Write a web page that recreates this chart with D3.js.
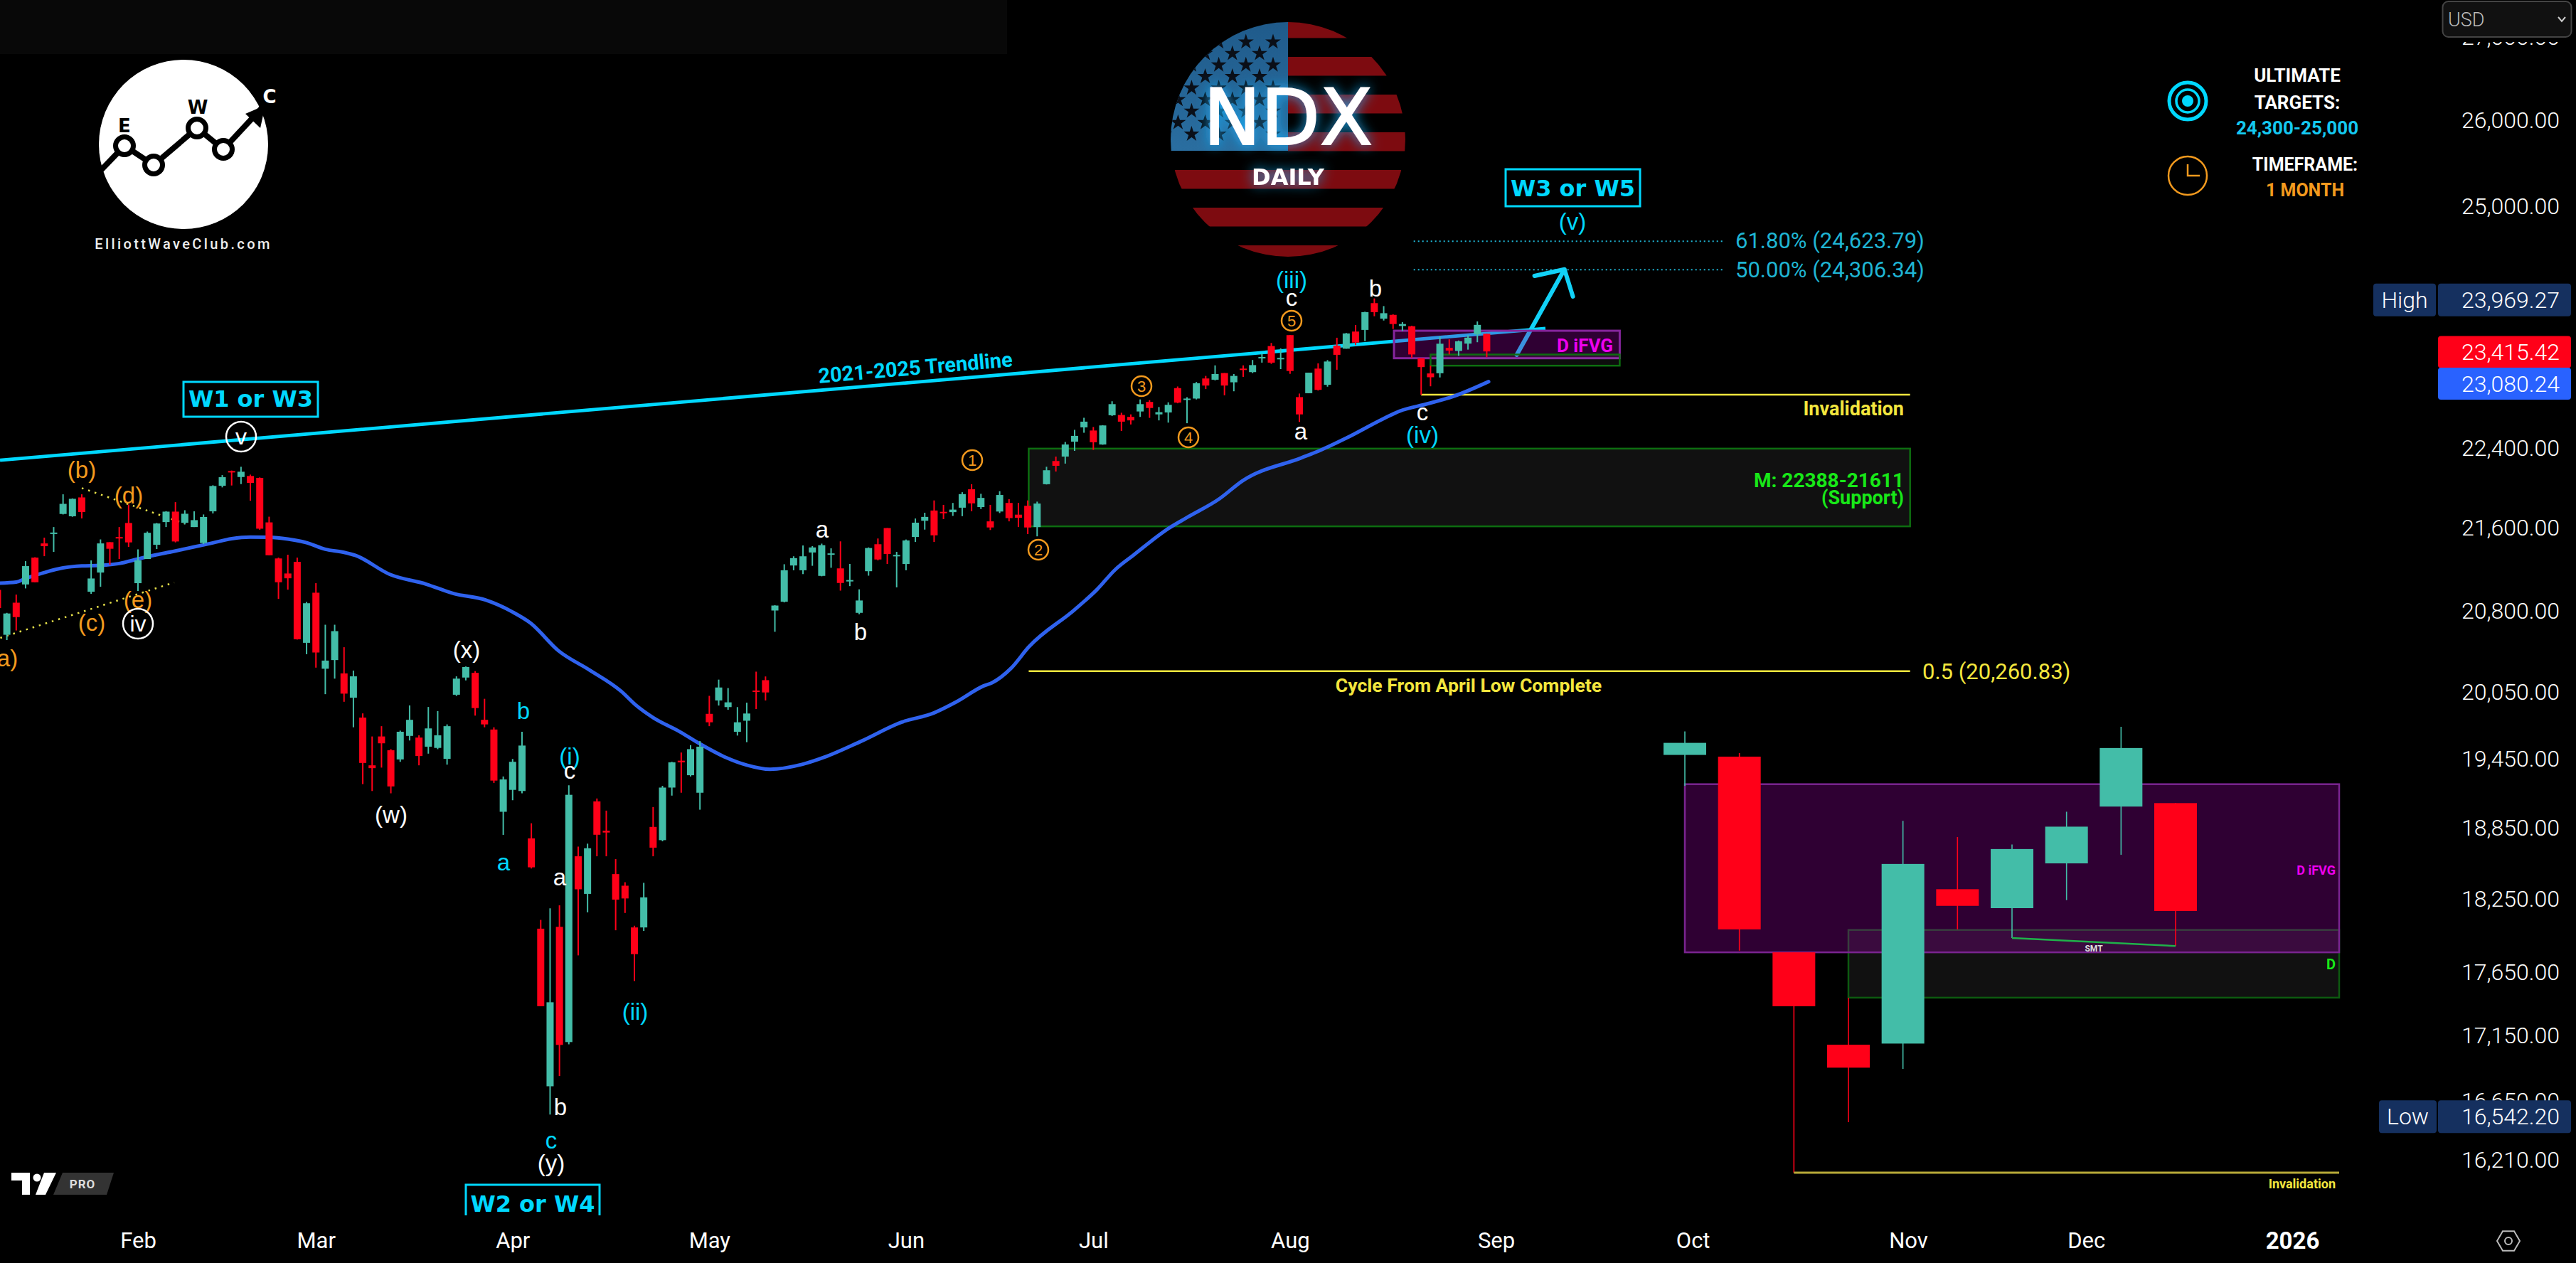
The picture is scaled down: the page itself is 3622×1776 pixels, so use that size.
<!DOCTYPE html>
<html>
<head>
<meta charset="utf-8">
<title>NDX daily</title>
<script src="https://cdn.jsdelivr.net/npm/d3@7"></script>
<style>
  html, body { margin: 0; padding: 0; background: #000; }
  svg { display: block; font-family: Roboto, sans-serif; }
</style>
</head>
<body>
<div id="chart"></div>
<script>
// DATA: bars are trading days, bar 0 = Feb 3 2025, first bar = -15
const firstBar = -15
const opens = [
  20996,20572,20874,21048,21306,21444,21543,21733,21710,21897,
  20978,21162,21456,21506,21644,21060,21293,21431,21653,21756,
  21646,21604,21448,21759,22013,22161,22101,22111,22092,21650,
  21298,21153,21265,20497,20969,20257,20337,20214,19992,19812,
  19387,19643,19520,19439,19648,19633,19552,19541,19444,20019,
  20176,20219,19792,19705,18982,19172,19162,18754,18000,16756,
  18015,17096,18602,18287,19072,18819,18452,18355,18010,18010,
  18852,18739,19192,19428,19300,19147,19846,19967,19907,19685,
  19784,20057,20152,20800,20883,21230,21184,21356,21130,21335,
  21202,21077,20778,21175,21436,21594,21319,21245,21507,21666,
  21767,21754,21751,21795,21978,21801,21660,21757,21842,21726,
  21814,21604,22029,22262,22307,22459,22605,22573,22430,22730,
  22733,22713,22769,22868,22739,22759,23012,22890,22903,23113,
  23100,23170,23073,23217,23180,23330,23456,23320,23573,22918,
  22959,23217,23047,23461,23428,23611,23629,23918,23750,23791,
  23671,23668,23327,23166,23168,23437,23404,23482,23581,23587]
const highs = [
  21000,20778,20951,21272,21310,21500,21604,21928,21887,21928,
  21279,21483,21456,21604,21826,21387,21560,21644,21761,21850,
  21770,21759,21728,22018,22120,22166,22204,22125,22097,21706,
  21306,21334,21306,20881,21060,20666,20666,20456,20240,19850,
  19643,19735,19530,19695,19922,19653,19908,19871,19751,20187,
  20278,20235,19982,19725,19289,19443,19685,18883,18072,18168,
  18192,19212,18684,18709,19097,18992,18578,18384,18024,18379,
  19023,19207,19418,19500,19566,19602,20009,20157,20080,19907,
  19947,20230,20186,20850,21242,21319,21424,21418,21442,21396,
  21464,21245,21001,21405,21492,21594,21362,21482,21688,21745,
  21867,21823,21842,21949,22029,21933,21823,21959,21880,21842,
  21867,21855,22204,22307,22456,22580,22704,22609,22628,22875,
  22756,22739,22894,22887,22815,22864,23029,22917,23076,23140,
  23251,23170,23160,23251,23308,23375,23489,23431,23573,22955,
  23174,23272,23307,23545,23596,23682,23825,23969,23886,23796,
  23712,23674,23327,23248,23556,23528,23515,23572,23720,23587]
const lows = [
  20800,20523,20612,21010,21069,21320,21362,21728,21705,21689,
  20958,21026,21237,21293,21410,20985,21293,21389,21604,21454,
  21630,21604,21437,21738,21997,22016,22030,21864,21578,21329,
  20910,20998,20527,20391,20267,20024,20166,19955,19725,19222,
  19162,19367,19142,19418,19607,19387,19490,19530,19393,20008,
  20150,19830,19725,19233,18784,19082,19142,18499,17377,16542,
  16834,17078,17783,18134,18602,18602,17987,18129,17577,17982,
  18602,18729,19122,19147,19289,19000,19735,19921,19883,19651,
  19592,19889,19967,20600,20877,21184,21147,21227,21126,21208,
  20989,21032,20765,21132,21279,21245,21020,21184,21458,21579,
  21458,21682,21714,21711,21760,21782,21575,21742,21660,21604,
  21535,21513,22026,22156,22236,22365,22550,22375,22427,22723,
  22569,22635,22713,22703,22677,22654,22854,22648,22894,23002,
  23093,22937,22979,23130,23170,23280,23267,23212,23162,22661,
  22959,22987,23027,23205,23428,23466,23507,23776,23730,23639,
  23617,23330,22943,23031,23124,23367,23352,23418,23497,23338]
const closes = [
  20823,20772,20738,21224,21069,21417,21550,21833,21883,21752,
  21105,21444,21392,21493,21454,21279,21548,21639,21756,21463,
  21735,21672,21703,22011,22099,22151,22154,22042,21588,21329,
  21069,21107,20530,20869,20407,20332,20606,20029,20187,19408,
  19362,19582,19202,19685,19792,19469,19715,19653,19735,20166,
  20273,19898,19751,19253,19263,19418,19562,18509,17377,17408,
  17074,19129,18325,18670,18785,18804,18239,18249,17793,18258,
  18675,19192,19413,19413,19530,19552,19770,20085,19950,19770,
  19849,20045,20040,20847,21184,21301,21319,21405,21427,21347,
  21062,21090,20895,21399,21288,21341,21332,21473,21647,21704,
  21523,21742,21776,21930,21838,21892,21600,21921,21692,21695,
  21600,21836,22169,22214,22430,22518,22664,22453,22625,22845,
  22664,22677,22845,22805,22762,22838,22861,22903,23063,23039,
  23160,23039,23140,23207,23254,23340,23280,23330,23192,22739,
  23174,22994,23292,23363,23591,23494,23820,23820,23809,23692,
  23692,23367,23233,23126,23481,23408,23507,23546,23683,23399]

// 50 day average, read at a bar every so often
const maBars = [-15,-13,-12,-10,-8,-6,-4,-2,0,2,4,6,8,10,12,14,16,18,20,22,
  23.2,26.9,30.8,33.7,37.1,40,41.9,44.9,48.2,51.6,53.1,55,57.9,60.1,
  62.7,65,67.5,70.9,73.3,77.2,81.5,85,87.4,90.3,91.2,93.2,95.1,100,102.4,104.3,106.3,110.1,112,115.5,117.9,
  124.2,126.1,129,132.9,134.7,137.6,140.5,144.2]
const maValues = [21060,21071,21105,21162,21207,21226,21231,21249,21293,21334,21371,21410,21449,21490,21506,21504,21486,21451,21387,21357,
  21328,21144,21050,20961,20900,20786,20683,20423,20246,20050,19929,19812,19683,19572,
  19459,19389,19352,19395,19459,19600,19770,19855,19955,20100,20129,20260,20458,20808,21000,21187,21331,21595,21698,21886,22061,
  22294,22365,22495,22691,22773,22847,22928,23080]

const priceTicks = [27000,26000,25000,22400,21600,20800,20050,19450,18850,18250,17650,17150,16650,16210]
const monthBars = [0,19,40,61,82,102,123,145,166,189,208,230]
const monthLabels = ["Feb","Mar","Apr","May","Jun","Jul","Aug","Sep","Oct","Nov","Dec","2026"]

const trendBars = [-14.73,150.27]
const trendPrices = [22270,23645]
const wedgeUpperBars = [-6,5]
const wedgeUpperPrices = [21990,21638]
const wedgeLowerBars = [-14.7,3.87]
const wedgeLowerPrices = [20543,21067]
const arrowBars = [147.2,152.3,149.1,152.3,153.2]
const arrowPrices = [23363,24288,24216,24288,23991]

const fibLevels = [24600,24285]
const fibLabels = ["61.80% (24,623.79)","50.00% (24,306.34)"]
const supportZone = [22388,21611]
const ifvgZone = [23620,23327]
const dZone = [23366,23248]
const invalidation = 22943
const halfLevel = 20235

const highValue = 23969.27
const lowValue = 16542.20
const lastValue = 23415.42
const maLast = 23080.24

// the inset repeats the last ten bars, larger
const insetOpens = opens.slice(-10)
const insetHighs = highs.slice(-10)
const insetLows = lows.slice(-10)
const insetCloses = closes.slice(-10)

// VIEW
const width = 3622, height = 1776
const cyan = "#00d8ff", orange = "#f39a1e", green = "#43bda8", red = "#ff0018", yellow = "#f3e63e", magenta = "#ee00ee", lime = "#18e818"

const x = d3.scaleLinear().domain([0,230]).range([194,3223])
const y = d3.scaleLog().domain([16210,26000]).range([1630,168])
const insetX = d3.scaleLinear().domain([0,9]).range([2369,3059])
const insetY = d3.scaleLinear().domain([22943,23720]).range([1649,1022])

const svg = d3.select("#chart").append("svg")
  .attr("width", width).attr("height", height)
  .attr("viewBox", [0,0,width,height])
  .style("background", "#000")

const defs = svg.append("defs")
defs.append("clipPath").attr("id","pane").append("rect").attr("width",3430).attr("height",1709)
defs.append("clipPath").attr("id","flag").append("ellipse").attr("cx",1811).attr("cy",196).attr("rx",165).attr("ry",165)
const glow = defs.append("filter").attr("id","glow").attr("x","-30%").attr("y","-30%").attr("width","160%").attr("height","160%")
glow.append("feGaussianBlur").attr("in","SourceAlpha").attr("stdDeviation",9).attr("result","b")
glow.append("feFlood").attr("flood-color","#18b4ff").attr("flood-opacity",0.9)
glow.append("feComposite").attr("in2","b").attr("operator","in").attr("result","c")
const merge = glow.append("feMerge")
merge.append("feMergeNode").attr("in","c")
merge.append("feMergeNode").attr("in","SourceGraphic")
const canton = defs.append("linearGradient").attr("id","canton").attr("x1",0).attr("y1",0).attr("x2",0).attr("y2",1)
canton.append("stop").attr("offset",0).attr("stop-color","#1f5a8a")
canton.append("stop").attr("offset",1).attr("stop-color","#2a6ea0")

svg.append("rect").attr("width",1416).attr("height",76).attr("fill","#080808")

const pane = svg.append("g").attr("clip-path","url(#pane)")
const linePts = (bars, prices) => d3.line()(bars.map((b,i) => [x(b), y(prices[i])]))

// support zone sits behind everything
pane.append("rect")
  .attr("x", x(95.1)).attr("width", x(189.2)-x(95.1))
  .attr("y", y(supportZone[0])).attr("height", y(supportZone[1])-y(supportZone[0]))
  .attr("fill","#111").attr("stroke","#0d6e10").attr("stroke-width",2.5)

// yellow levels
pane.append("path").attr("d", d3.line()([[x(95.1),y(halfLevel)],[x(189.2),y(halfLevel)]]))
  .attr("stroke",yellow).attr("stroke-width",2.5)
pane.append("path").attr("d", d3.line()([[x(137),y(invalidation)],[x(189.2),y(invalidation)]]))
  .attr("stroke",yellow).attr("stroke-width",2.5)

// fib levels
fibLevels.forEach(p => {
  pane.append("path").attr("d", d3.line()([[x(136.2),y(p)],[x(169.2),y(p)]]))
    .attr("stroke","#1fb5d4").attr("stroke-width",2).attr("stroke-dasharray","2 4")
})

// wedge
pane.append("path").attr("d", linePts(wedgeUpperBars, wedgeUpperPrices)).attr("stroke","#e8e24a").attr("stroke-width",2.5).attr("stroke-dasharray","2.5 7").attr("fill","none")
pane.append("path").attr("d", linePts(wedgeLowerBars, wedgeLowerPrices)).attr("stroke","#e8e24a").attr("stroke-width",2.5).attr("stroke-dasharray","2.5 7").attr("fill","none")

// trendline, average, arrow
pane.append("path").attr("d", linePts(trendBars, trendPrices)).attr("stroke",cyan).attr("stroke-width",4.8).attr("fill","none")
pane.append("path")
  .attr("d", d3.line().x(d => x(d[0])).y(d => y(d[1])).curve(d3.curveMonotoneX)(maBars.map((b,i) => [b, maValues[i]])))
  .attr("stroke","#2f62ee").attr("stroke-width",5).attr("fill","none").attr("stroke-linecap","round")
pane.append("path").attr("d", linePts(arrowBars, arrowPrices))
  .attr("stroke","#12d2f8").attr("stroke-width",6).attr("fill","none").attr("stroke-linecap","round").attr("stroke-linejoin","round")

// main chart zones
pane.append("rect")
  .attr("x", x(134.1)).attr("width", x(158.2)-x(134.1))
  .attr("y", y(ifvgZone[0])).attr("height", y(ifvgZone[1])-y(ifvgZone[0]))
  .attr("fill","rgb(155,0,170)").attr("fill-opacity",0.3)
  .attr("stroke","#85259c").attr("stroke-width",3)
pane.append("rect")
  .attr("x", x(138)).attr("width", x(158.2)-x(138))
  .attr("y", y(dZone[0])).attr("height", y(dZone[1])-y(dZone[0]))
  .attr("fill","#fff").attr("fill-opacity",0.05)
  .attr("stroke","#0d6e10").attr("stroke-width",2.5)

function drawCandles(parent, xs, ys, o, h, l, c, bodyW, wickW) {
  const n = o.length
  const idx = d3.range(n)
  const g = parent.append("g")
  g.selectAll("line").data(idx).join("line")
    .attr("x1", i => xs(i)).attr("x2", i => xs(i))
    .attr("y1", i => ys(h[i])).attr("y2", i => ys(l[i]))
    .attr("stroke", i => c[i] >= o[i] ? green : red)
    .attr("stroke-width", wickW)
  g.selectAll("rect").data(idx).join("rect")
    .attr("x", i => xs(i) - bodyW/2).attr("width", bodyW)
    .attr("y", i => ys(Math.max(o[i],c[i])))
    .attr("height", i => Math.max(2, Math.abs(ys(o[i]) - ys(c[i]))))
    .attr("fill", i => c[i] >= o[i] ? green : red)
}
drawCandles(pane, i => x(i + firstBar), y, opens, highs, lows, closes, 10, 2)

// INSET
pane.append("rect")
  .attr("x", insetX(3)).attr("width", insetX(12)-insetX(3))
  .attr("y", insetY(dZone[0])).attr("height", insetY(dZone[1])-insetY(dZone[0]))
  .attr("fill","#111").attr("stroke","#0d5a10").attr("stroke-width",2.5)
pane.append("rect")
  .attr("x", insetX(0)).attr("width", insetX(12)-insetX(0))
  .attr("y", insetY(ifvgZone[0])).attr("height", insetY(ifvgZone[1])-insetY(ifvgZone[0]))
  .attr("fill","rgb(155,0,170)").attr("fill-opacity",0.3)
  .attr("stroke","#7a2490").attr("stroke-width",2.5)
drawCandles(pane, insetX, insetY, insetOpens, insetHighs, insetLows, insetCloses, 60, 1.6)
pane.append("path").attr("d", d3.line()([[insetX(2),insetY(invalidation)],[insetX(12),insetY(invalidation)]]))
  .attr("stroke","#b8aa38").attr("stroke-width",3)
pane.append("path").attr("d", d3.line()([[insetX(6),insetY(insetLows[6])],[insetX(9),insetY(insetLows[9])]]))
  .attr("stroke","#1fb24a").attr("stroke-width",2.5)

// TEXT HELPERS
function label(t, px, py, color, size, opts) {
  opts = opts || {}
  return svg.append("text").attr("x",px).attr("y",py).text(t)
    .attr("fill",color).attr("font-size",size)
    .attr("text-anchor",opts.anchor || "middle")
    .attr("dominant-baseline","central")
    .attr("font-weight",opts.weight || 400)
    .attr("font-family",opts.family || "Roboto")
    .attr("letter-spacing",opts.spacing || 0)
}
function circled(t, px, py, color, r, size) {
  svg.append("circle").attr("cx",px).attr("cy",py).attr("r",r).attr("fill","none").attr("stroke",color).attr("stroke-width",2.5)
  label(t, px, py, color, size, {family:"Liberation Sans"})
}
function waveBox(t, x0, y0, x1, y1, ty) {
  svg.append("rect").attr("x",x0).attr("y",y0).attr("width",x1-x0).attr("height",y1-y0)
    .attr("fill","none").attr("stroke",cyan).attr("stroke-width",3)
  label(t, (x0+x1)/2, ty, cyan, 32, {weight:700, family:"DejaVu Sans"})
}

// wave counts
const waveLabels = [
  ["(a)",5,925,orange],["(b)",115,660,orange],["(d)",181,696,orange],["(c)",129,875,orange],["(e)",194,843,orange],
  ["(x)",656,913,"#fff"],["(w)",550,1145,"#fff"],["b",736,999,cyan],["a",708,1212,cyan],
  ["(i)",801,1063,cyan],["c",801,1083,"#fff"],["a",787,1233,"#fff"],["(ii)",893,1422,cyan],
  ["b",788,1556,"#fff"],["c",775,1603,cyan],["(y)",775,1635,"#fff"],
  ["a",1156,744,"#fff"],["b",1210,888,"#fff"],["a",1829,606,"#fff"],
  ["(iii)",1816,393,cyan],["c",1816,418,"#fff"],["b",1934,405,"#fff"],["c",2000,579,"#fff"],["(iv)",2000,611,cyan],["(v)",2211,311,cyan]
]
waveLabels.forEach(d => label(d[0], d[1], d[2], d[3], 33, {family:"Liberation Sans"}))
circled("iv",194,877,"#fff",21,32)
circled("v",339,614,"#fff",21,32)
circled("1",1367,647,orange,14,22)
circled("2",1460,773,orange,14,22)
circled("3",1605,543,orange,14,22)
circled("4",1671,615,orange,14,22)
circled("5",1816,451,orange,14,22)

waveBox("W1 or W3",258,537,447,586,561)
waveBox("W3 or W5",2117,238,2306,290,265)
waveBox("W2 or W4",655,1666,843,1730,1693)
svg.append("rect").attr("y",1709).attr("width",3430).attr("height",67).attr("fill","#000")

svg.append("text").text("2021-2025 Trendline")
  .attr("transform","translate(1287,517) rotate(-4.9)")
  .attr("text-anchor","middle").attr("dominant-baseline","central")
  .attr("fill",cyan).attr("font-size",29).attr("font-weight",700)

fibLabels.forEach((t,i) => label(t, 2440, i ? 379 : 338, "#1fb5d4", 31, {anchor:"start"}))
label("D iFVG",2268,486,magenta,26,{anchor:"end",weight:700})
label("Invalidation",2677,575,yellow,27,{anchor:"end",weight:700})
label("M: 22388-21611",2677,675,lime,28,{anchor:"end",weight:700})
label("(Support)",2677,700,lime,27,{anchor:"end",weight:700})
label("0.5 (20,260.83)",2703,944,yellow,31,{anchor:"start"})
label("Cycle From April Low Complete",2065,963,yellow,26.6,{weight:700})
label("D iFVG",3284,1223,magenta,18,{anchor:"end",weight:700})
label("D",3284,1356,lime,20,{anchor:"end",weight:700})
label("SMT",2944,1334,"#ddd",12,{weight:700})
label("Invalidation",3284,1664,yellow,18,{anchor:"end",weight:700})

// AXES
const priceAxis = svg.append("g").attr("transform","translate(3599,0)")
  .call(d3.axisRight(y).tickValues(priceTicks).tickFormat(d3.format(",.2f")).tickSize(0))
priceAxis.select(".domain").remove()
priceAxis.selectAll("text").attr("x",0).attr("text-anchor","end").attr("dy","0.35em")
  .attr("fill","#fff").attr("font-size",32).attr("font-weight",300).attr("font-family","Roboto")

const timeAxis = svg.append("g").attr("transform","translate(0,1744)")
  .call(d3.axisBottom(x).tickValues(monthBars).tickFormat((d,i) => monthLabels[i]).tickSize(0).tickPadding(0))
timeAxis.select(".domain").remove()
timeAxis.selectAll("text").attr("y",0).attr("dy","0.35em")
  .attr("fill","#fff").attr("font-size",31).attr("font-family","Roboto")
  .attr("font-weight", (d,i) => monthLabels[i] === "2026" ? 700 : 400)
timeAxis.selectAll("text").filter((d,i) => monthLabels[i] === "2026").attr("font-size",33)

// mask over the top tick
svg.append("rect").attr("x",3400).attr("width",222).attr("height",59).attr("fill","#000")
svg.append("rect").attr("x",3434.5).attr("y",2).attr("width",181).attr("height",50).attr("rx",8)
  .attr("fill","#111").attr("stroke","#444").attr("stroke-width",2)
label("USD",3442,28,"#bbb",27,{anchor:"start",weight:300})
svg.append("path").attr("d",d3.line()([[3597,24],[3602,30],[3607,24]])).attr("fill","none").attr("stroke","#ccc").attr("stroke-width",2)

// price badges
function badge(x0, w, py, h, fill, t, anchorRight) {
  svg.append("rect").attr("x",x0).attr("y",py-h/2).attr("width",w).attr("height",h).attr("rx",4).attr("fill",fill)
  if (anchorRight) label(t,3599,py,"#fff",32,{anchor:"end",weight:300})
  else label(t,x0+w/2,py,"#fff",32,{weight:300})
}
const fmt = d3.format(",.2f")
badge(3337,88,y(highValue)+2,46,"#15305f","High")
badge(3428,187,y(highValue)+2,46,"#15305f",fmt(highValue),true)
badge(3428,187,y(lastValue)+3,45,red,fmt(lastValue),true)
badge(3428,187,y(maLast)+3,45,"#2962ff",fmt(maLast),true)
badge(3345,81,y(lowValue)+3,46,"#15305f","Low")
badge(3428,187,y(lowValue)+3,46,"#15305f",fmt(lowValue),true)

// settings hexagon
svg.append("path").attr("d", d3.lineRadial().curve(d3.curveLinearClosed)(d3.range(6).map(i => [i*Math.PI/3 + Math.PI/2, 16])))
  .attr("transform","translate(3527,1745)").attr("fill","none").attr("stroke","#bbb").attr("stroke-width",2)
svg.append("circle").attr("cx",3527).attr("cy",1745).attr("r",5).attr("fill","none").attr("stroke","#bbb").attr("stroke-width",2)

// TARGET PANEL
const cx = 3076
svg.append("circle").attr("cx",cx).attr("cy",142).attr("r",26).attr("fill","none").attr("stroke",cyan).attr("stroke-width",5)
svg.append("circle").attr("cx",cx).attr("cy",142).attr("r",16).attr("fill","none").attr("stroke",cyan).attr("stroke-width",3.5)
svg.append("circle").attr("cx",cx).attr("cy",142).attr("r",8).attr("fill",cyan)
svg.append("circle").attr("cx",cx).attr("cy",247).attr("r",27).attr("fill","none").attr("stroke",orange).attr("stroke-width",2.5)
svg.append("path").attr("d",d3.line()([[cx,231],[cx,247],[cx+17,247]])).attr("fill","none").attr("stroke",orange).attr("stroke-width",2.5)
label("ULTIMATE",3230,106,"#fff",26,{weight:700})
label("TARGETS:",3230,144,"#fff",26,{weight:700})
label("24,300-25,000",3230,180,"#14c8f0",26,{weight:700})
label("TIMEFRAME:",3241,231,"#fff",25,{weight:700})
label("1 MONTH",3241,267,orange,25,{weight:700})

// ELLIOTT WAVE LOGO
svg.append("circle").attr("cx",258).attr("cy",203).attr("r",119).attr("fill","#fff")
const logoPts = [[124,258],[175,205],[216,232],[277,180],[314,210],[368,152]]
svg.append("path").attr("d",d3.line()(logoPts)).attr("fill","none").attr("stroke","#000").attr("stroke-width",8)
svg.append("path").attr("d",d3.line()([[345,160],[373,148],[366,180]])).attr("fill","#000")
logoPts.slice(1,5).forEach(d => {
  svg.append("circle").attr("cx",d[0]).attr("cy",d[1]).attr("r",12.5).attr("fill","#fff").attr("stroke","#000").attr("stroke-width",7)
})
label("E",175,177,"#000",26,{weight:700,family:"DejaVu Sans"})
label("W",278,151,"#000",26,{weight:700,family:"DejaVu Sans"})
label("C",379,136,"#fff",26,{weight:700,family:"DejaVu Sans"})
label("ElliottWaveClub.com",258,343,"#eee",20,{spacing:3.4,weight:500})

// TV PRO LOGO
svg.append("path").attr("d",d3.line()([[16,1649],[42,1649],[42,1680],[31,1680],[31,1660],[16,1660]])).attr("fill","#fff")
svg.append("circle").attr("cx",52).attr("cy",1656).attr("r",5.5).attr("fill","#fff")
svg.append("path").attr("d",d3.line()([[62,1649],[79,1649],[64,1680],[50,1680]])).attr("fill","#fff")
svg.append("path").attr("d",d3.line()([[88,1649],[160,1649],[150,1680],[75,1680]])).attr("fill","#333")
label("PRO",116,1665,"#ddd",17,{weight:700,spacing:1})

// NDX FLAG
const flag = svg.append("g").attr("clip-path","url(#flag)")
d3.range(7).forEach(k => {
  flag.append("rect").attr("x",k < 4 ? 1811 : 1640).attr("width",k < 4 ? 170 : 340)
    .attr("y",27 + k*53).attr("height",26.5).attr("fill","#7d0b10")
})
flag.append("rect").attr("x",1640).attr("y",25).attr("width",171).attr("height",187).attr("fill","url(#canton)")
const star = d3.symbol().type(d3.symbolStar).size(150)
d3.range(9).forEach(r => {
  d3.range(5).forEach(c => {
    const sx = 1790 - c*38.2 + (r % 2 ? -19 : 0)
    const sy = 59 + r*16.2
    flag.append("path").attr("d",star()).attr("transform",`translate(${sx},${sy})`).attr("fill","#0a0f18")
  })
})
label("NDX",1811,165,"#fff",108,{weight:400,family:"DejaVu Sans"}).attr("filter","url(#glow)").attr("stroke","#fff").attr("stroke-width",2)
label("DAILY",1811,249,"#fff",32,{weight:700,family:"DejaVu Sans"}).attr("filter","url(#glow)")
</script>
</body>
</html>
